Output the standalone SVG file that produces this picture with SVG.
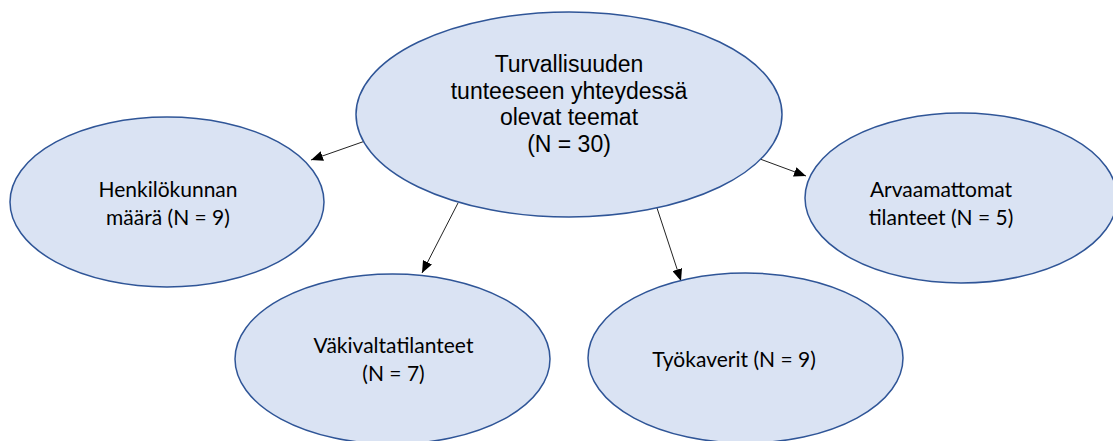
<svg xmlns="http://www.w3.org/2000/svg" width="1113" height="441" viewBox="0 0 1113 441">
  <defs>
    <style>
      .node { fill: #DAE3F3; stroke: #2F5597; stroke-width: 1.5; }
      .main { font-family: "Liberation Sans", Arial, sans-serif; font-size: 23px; fill: #000; text-anchor: middle; }
      .lbl { font-family: Lato, "Liberation Sans", sans-serif; font-size: 21px; fill: #000; text-anchor: middle; }
      .conn { stroke: #222; stroke-width: 1; fill: none; marker-end: url(#arrow); }
    </style>
    <marker id="arrow" viewBox="0 0 12 10" refX="12" refY="5" markerWidth="12" markerHeight="10" markerUnits="userSpaceOnUse" orient="auto">
      <path d="M0,0 L12,5 L0,10 Z" fill="#000"/>
    </marker>
  </defs>
  <rect width="1113" height="441" fill="#fff"/>
  <g id="connectors">
    <line class="conn" x1="368" y1="140" x2="311" y2="160"/>
    <line class="conn" x1="760" y1="159" x2="806" y2="176"/>
    <line class="conn" x1="458" y1="203" x2="422" y2="273"/>
    <line class="conn" x1="657" y1="208" x2="681" y2="281"/>
  </g>
  <g id="node-center">
    <ellipse class="node" cx="569" cy="114.5" rx="213" ry="102.5"/>
    <text class="main" x="569" y="72">Turvallisuuden</text>
    <text class="main" x="569" y="98.5">tunteeseen yhteydessä</text>
    <text class="main" x="569" y="125">olevat teemat</text>
    <text class="main" x="569" y="151.5">(N = 30)</text>
  </g>
  <g id="node-henkilokunta">
    <ellipse class="node" cx="167" cy="202" rx="157" ry="85"/>
    <text class="lbl" x="168" y="197">Henkilökunnan</text>
    <text class="lbl" x="168" y="225">määrä (N = 9)</text>
  </g>
  <g id="node-arvaamattomat">
    <ellipse class="node" cx="961" cy="198" rx="156" ry="85"/>
    <text class="lbl" x="941" y="197">Arvaamattomat</text>
    <text class="lbl" x="941" y="225">tilanteet (N = 5)</text>
  </g>
  <g id="node-vakivalta">
    <ellipse class="node" cx="392.5" cy="359" rx="157.5" ry="85"/>
    <text class="lbl" x="393.5" y="353">Väkivaltatilanteet</text>
    <text class="lbl" x="393.5" y="381">(N = 7)</text>
  </g>
  <g id="node-tyokaverit">
    <ellipse class="node" cx="745.5" cy="358" rx="157.5" ry="85"/>
    <text class="lbl" x="734" y="367">Työkaverit (N = 9)</text>
  </g>
</svg>
